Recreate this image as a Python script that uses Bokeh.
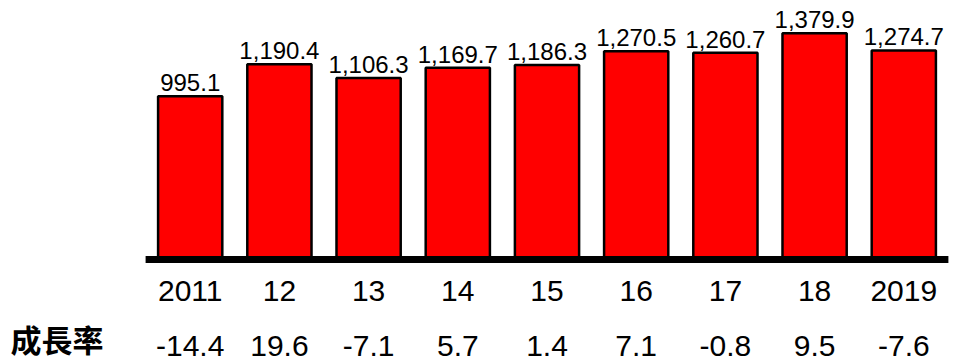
from bokeh.plotting import figure
from bokeh.models import ColumnDataSource, Range1d, Label
from bokeh.core.properties import value
from bokeh.embed import file_html
from bokeh.resources import INLINE

# ---- data ----
years = ["2011", "12", "13", "14", "15", "16", "17", "18", "2019"]
exports = [995.1, 1190.4, 1106.3, 1169.7, 1186.3, 1270.5, 1260.7, 1379.9, 1274.7]
growth = [-14.4, 19.6, -7.1, 5.7, 1.4, 7.1, -0.8, 9.5, -7.6]
row_label = "成長率"

# ---- layout ----
W, H = 956, 361
slot = 89.2            # px per category
first_center = 189.7   # px from left of canvas
px_per_unit = 0.164
zero_from_bottom = 102  # px

x_start = -first_center / slot
x_end = (W - first_center) / slot
y_start = -zero_from_bottom / px_per_unit
y_end = (H - zero_from_bottom) / px_per_unit


def ypx(px_from_bottom):
    return (px_from_bottom - zero_from_bottom) / px_per_unit


idx = list(range(len(years)))
src = ColumnDataSource(dict(
    x=idx,
    v=exports,
    vlab=[f"{v:,.1f}" for v in exports],
    cat=years,
    g=[f"{g:.1f}" for g in growth],
))

p = figure(width=W, height=H, x_range=Range1d(x_start, x_end), y_range=Range1d(y_start, y_end),
           output_backend="svg", toolbar_location=None, min_border=0,
           x_axis_location=None, y_axis_location=None, outline_line_color=None)
p.grid.visible = False
p.background_fill_color = "white"
p.border_fill_color = "white"

p.vbar(x="x", top="v", bottom=0, width=0.72, fill_color="#ff0000",
       line_color="black", line_width=2.5, source=src)

p.segment(x0=[idx[0] - 0.5], x1=[idx[-1] + 0.5], y0=[0], y1=[0],
          line_width=7, line_color="black")

font = value("Liberation Sans")
p.text(x="x", y="v", text="vlab", text_align="center", text_baseline="bottom",
       y_offset=-5, text_font=font, text_font_size="24px", text_color="black", source=src)

p.text(x="x", y=ypx(71), text="cat", text_align="center", text_baseline="middle",
       text_font=font, text_font_size="30px", text_color="black", source=src)

p.text(x="x", y=ypx(16), text="g", text_align="center", text_baseline="middle",
       text_font=font, text_font_size="30px", text_color="black", source=src)

p.add_layout(Label(x=10, y=23, x_units="screen", y_units="screen", text=row_label,
                   text_baseline="middle", text_align="left",
                   text_font="Noto Sans CJK TC", text_font_style="bold",
                   text_font_size="31px", text_color="black"))

open("out.html", "w").write(file_html(p, INLINE))
